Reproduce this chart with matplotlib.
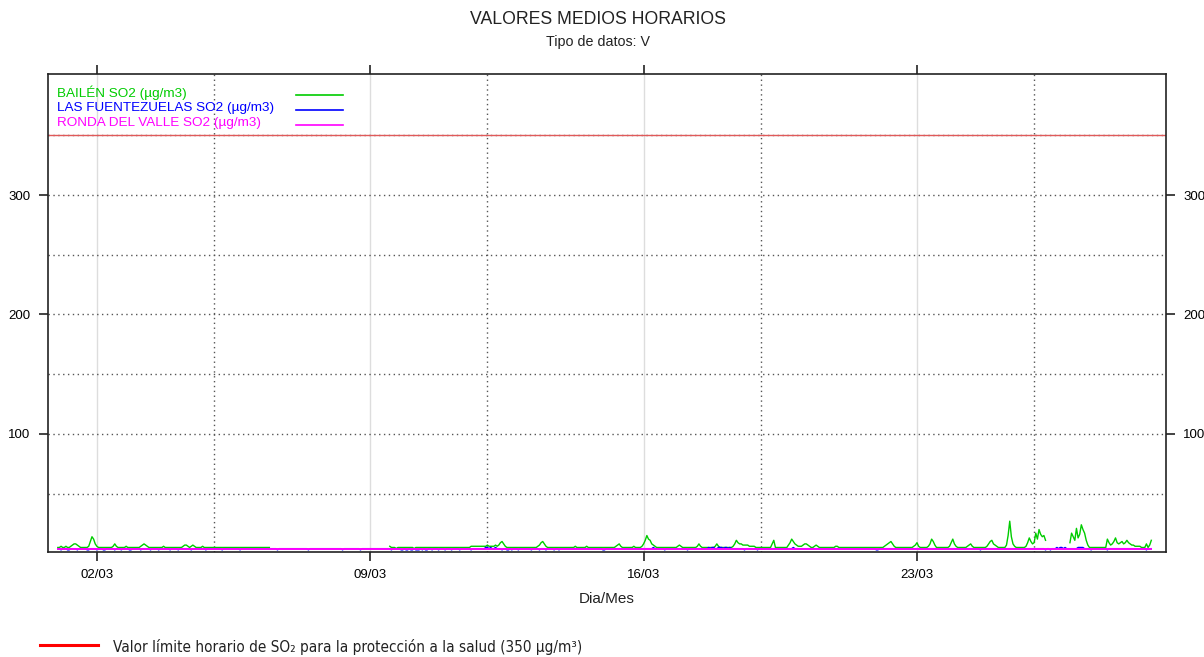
import numpy as np
import matplotlib
matplotlib.use("Agg")
import matplotlib.pyplot as plt
import matplotlib.dates as mdates
from matplotlib.lines import Line2D

plt.rcParams['font.family'] = ['Liberation Sans', 'DejaVu Sans']

nan = np.nan

# hourly values from 01/03 00:00, one row per day (µg/m3)
bailen = [
    5, 5, 6, 5, 5, 6, 5, 5, 6, 7, 8, 8, 7, 6, 5, 5, 5, 5, 5, 6, 10, 14, 12, 8,
    6, 5, 5, 5, 5, 5, 5, 5, 5, 5, 6, 8, 6, 5, 5, 5, 5, 5, 6, 5, 5, 5, 5, 5,
    5, 5, 5, 6, 7, 8, 7, 6, 5, 5, 5, 5, 5, 5, 5, 5, 5, 6, 5, 5, 5, 5, 5, 5,
    5, 5, 5, 5, 5, 6, 7, 7, 6, 5, 6, 7, 6, 5, 5, 5, 5, 6, 5, 5, 5, 5, 5, 5,
    5, 5, 5, 5, 5, 5, 5, 5, 5, 5, 5, 5, 5, 5, 5, 5, 5, 5, 5, 5, 5, 5, 5, 5,
    5, 5, 5, 5, 5, 5, 5, 5, 5, 5, 5, nan, nan, nan, nan, nan, nan, nan, nan, nan, nan, nan, nan, nan,
    nan, nan, nan, nan, nan, nan, nan, nan, nan, nan, nan, nan, nan, nan, nan, nan, nan, nan, nan, nan, nan, nan, nan, nan,
    nan, nan, nan, nan, nan, nan, nan, nan, nan, nan, nan, nan, nan, nan, nan, nan, nan, nan, nan, nan, nan, nan, nan, nan,
    nan, nan, nan, nan, nan, nan, nan, nan, nan, nan, nan, nan, 6, 5, 5, 5, 4, 5, 5, 5, 5, 5, 5, 5,
    5, 5, 5, 4, 5, 5, 5, 5, 5, 5, 5, 5, 5, 5, 5, 5, 5, 5, 5, 5, 5, 5, 5, 5,
    5, 5, 5, 5, 5, 5, 5, 5, 5, 5, 5, 5, 5, 5, 6, 6, 6, 6, 6, 6, 6, 6, 6, 6,
    7, 6, 6, 6, 6, 7, 6, 7, 9, 10, 8, 6, 5, 5, 5, 5, 5, 5, 5, 5, 5, 5, 5, 5,
    5, 5, 5, 5, 5, 5, 5, 6, 7, 9, 10, 8, 6, 5, 5, 5, 5, 5, 5, 5, 5, 5, 5, 5,
    5, 5, 5, 5, 5, 5, 6, 5, 5, 5, 5, 5, 5, 6, 5, 5, 5, 5, 5, 5, 5, 5, 5, 5,
    5, 5, 5, 5, 5, 5, 5, 6, 7, 8, 6, 5, 5, 5, 5, 5, 5, 5, 6, 5, 5, 5, 5, 6,
    8, 11, 15, 12, 11, 8, 7, 6, 5, 5, 5, 5, 5, 5, 5, 5, 5, 5, 5, 5, 5, 6, 7, 6,
    5, 5, 5, 5, 5, 5, 5, 5, 5, 6, 8, 6, 5, 5, 5, 5, 5, 5, 5, 5, 6, 8, 6, 5,
    5, 5, 5, 5, 5, 5, 5, 6, 8, 11, 9, 8, 8, 7, 7, 7, 7, 6, 6, 6, 6, 5, 5, 5,
    5, 5, 5, 5, 5, 5, 5, 8, 11, 5, 5, 5, 5, 5, 5, 5, 5, 7, 9, 12, 10, 8, 7, 6,
    6, 6, 7, 8, 8, 7, 6, 5, 5, 6, 7, 6, 5, 5, 5, 5, 5, 5, 5, 5, 5, 5, 6, 6,
    5, 5, 5, 5, 5, 5, 5, 5, 5, 5, 5, 5, 5, 5, 5, 5, 5, 5, 5, 5, 5, 5, 5, 5,
    5, 5, 5, 5, 6, 7, 8, 9, 10, 8, 6, 5, 5, 5, 5, 5, 5, 5, 5, 5, 5, 5, 6, 7,
    9, 6, 5, 5, 5, 5, 5, 6, 8, 12, 10, 7, 5, 5, 5, 5, 5, 5, 5, 5, 6, 9, 12, 8,
    6, 5, 5, 5, 5, 5, 5, 6, 7, 8, 6, 5, 5, 5, 5, 5, 5, 5, 5, 6, 8, 10, 11, 8,
    7, 6, 5, 5, 5, 5, 5, 7, 15, 27, 14, 8, 6, 5, 5, 5, 5, 5, 5, 6, 9, 13, 10, 8,
    9, 17, 12, 20, 16, 14, 15, 11, nan, nan, nan, nan, nan, nan, nan, nan, nan, nan, nan, nan, nan, nan, 9, 17,
    14, 11, 21, 13, 16, 24, 20, 17, 11, 7, 5, 5, 5, 5, 5, 5, 5, 5, 5, 5, 5, 12, 9, 7,
    8, 10, 13, 9, 8, 9, 10, 8, 9, 11, 9, 8, 7, 7, 6, 6, 6, 6, 5, 5, 5, 8, 5, 7,
    11,
]

fuentezuelas = [
    4, 4, 3, 4, 4, 4, 3, 3, 4, 4, 4, 4, 3, 4, 4, 4, 4, 4, 3, 3, 4, 4, 4, 4,
    3, 4, 4, 4, 3, 3, 4, 4, 4, 4, 4, 3, 4, 4, 4, 3, 4, 4, 4, 4, 3, 3, 4, 4,
    4, 4, 4, 3, 4, 4, 4, 4, 4, 3, 4, 4, 4, 4, 3, 4, 4, 4, 4, 4, 4, 3, 4, 4,
    4, 4, 3, 4, 4, 4, 4, 4, 4, 4, 3, 4, 4, 4, 4, 4, 4, 4, 4, 3, 4, 4, 4, 4,
    4, 4, 4, 4, 4, 3, 4, 4, 4, 4, 4, 4, 4, 4, 4, 4, 3, 4, 4, 4, 4, 4, 4, 4,
    4, 4, 4, 4, 4, 4, 4, 4, 4, 4, 4, 4, 4, 4, 4, 3, 4, 4, 4, 4, 4, 4, 4, 4,
    4, 4, 4, 4, 4, 4, 4, 4, 4, 4, 3, 4, 4, 4, 4, 4, 4, 4, 4, 4, 4, 4, 4, 4,
    4, 4, 4, 4, 4, 4, 4, 3, 4, 4, 4, 4, 4, 4, 4, 4, 4, 4, 3, 4, 4, 4, 4, 4,
    4, 4, 4, 4, 4, 4, 4, 4, 4, 4, 4, 4, 4, 3, 4, 4, 4, 4, 4, 3, 3, 4, 3, 3,
    4, 3, 3, 4, 3, 3, 3, 4, 3, 4, 3, 3, 4, 4, 3, 4, 4, 4, 3, 4, 4, 4, 3, 4,
    4, 4, 3, 4, 4, 4, 4, 3, 4, 4, 4, 4, 4, 4, 3, 4, 4, 4, 4, 4, 4, 4, 4, 5,
    5, 4, 5, 4, 4, 5, 4, 4, 4, 3, 4, 4, 3, 3, 4, 3, 4, 4, 4, 3, 4, 4, 4, 4,
    4, 4, 4, 3, 4, 4, 4, 4, 3, 4, 4, 4, 3, 4, 4, 4, 4, 3, 4, 4, 3, 4, 4, 4,
    4, 4, 4, 4, 4, 4, 4, 4, 4, 4, 4, 4, 4, 4, 4, 4, 4, 4, 4, 4, 4, 4, 4, 3,
    3, 4, 4, 4, 4, 4, 4, 4, 4, 4, 4, 4, 4, 4, 4, 4, 4, 4, 4, 4, 4, 4, 4, 4,
    4, 4, 4, 4, 4, 4, 5, 4, 4, 4, 4, 4, 4, 3, 4, 4, 4, 4, 4, 4, 4, 4, 4, 4,
    4, 4, 4, 3, 4, 4, 4, 4, 4, 4, 4, 4, 4, 4, 4, 4, 5, 4, 5, 5, 4, 4, 5, 5,
    5, 4, 5, 5, 4, 5, 4, 4, 4, 4, 4, 4, 4, 4, 3, 4, 4, 4, 4, 4, 4, 4, 3, 4,
    4, 4, 4, 4, 4, 4, 4, 4, 4, 4, 4, 4, 4, 4, 4, 4, 4, 4, 4, 4, 5, 4, 4, 4,
    4, 4, 4, 4, 4, 4, 4, 4, 4, 4, 4, 4, 4, 4, 4, 4, 4, 4, 4, 4, 4, 4, 4, 4,
    4, 4, 4, 4, 4, 4, 4, 4, 4, 4, 4, 4, 4, 4, 4, 4, 4, 4, 4, 4, 4, 4, 4, 3,
    3, 4, 4, 4, 4, 4, 4, 4, 4, 4, 4, 4, 4, 4, 4, 4, 4, 4, 4, 4, 4, 4, 4, 4,
    4, 4, 4, 4, 4, 4, 4, 4, 4, 4, 4, 4, 4, 4, 4, 4, 4, 4, 4, 4, 4, 4, 4, 4,
    4, 4, 4, 4, 4, 4, 4, 4, 4, 4, 4, 4, 4, 4, 4, 3, 4, 4, 4, 4, 4, 4, 4, 4,
    4, 4, 4, 4, 4, 4, 4, 4, 4, 4, 4, 4, 4, 4, 4, 4, 4, 4, 4, 4, 4, 4, 4, 4,
    4, 4, 4, 4, 4, 4, 4, 3, 4, 4, 3, 4, 4, 4, 5, 4, 5, 5, 4, 5, 4, 4, 4, 4,
    4, 4, 4, 5, 5, 5, 5, 4, 4, 4, 4, 3, 4, 4, 4, 4, 4, 4, 4, 4, 4, 3, 4, 4,
    4, 4, 4, 4, 4, 4, 4, 4, 4, 4, 4, 4, 4, 4, 4, 4, 4, 4, 4, 4, 4, 3, 4, 4,
    4,
]

ronda_valle = [
    4, 4, 4, 4, 4, 4, 4, 4, 4, 4, 4, 4, 4, 4, 4, 4, 4, 4, 4, 4, 4, 4, 4, 4,
    4, 4, 4, 4, 4, 4, 4, 4, 4, 4, 4, 4, 4, 4, 4, 4, 4, 4, 4, 4, 4, 4, 4, 4,
    4, 4, 4, 4, 4, 4, 4, 4, 4, 4, 4, 4, 4, 4, 4, 4, 4, 4, 4, 4, 4, 4, 4, 4,
    4, 4, 4, 4, 4, 4, 4, 4, 4, 4, 4, 4, 4, 4, 4, 4, 4, 4, 4, 4, 4, 4, 4, 4,
    4, 4, 4, 4, 4, 4, 4, 4, 4, 4, 4, 4, 4, 4, 4, 4, 4, 4, 4, 4, 4, 4, 4, 4,
    4, 4, 4, 4, 4, 4, 4, 4, 4, 4, 4, 4, 4, 4, 4, 4, 4, 4, 4, 4, 4, 4, 4, 4,
    4, 4, 4, 4, 4, 4, 4, 4, 4, 4, 4, 4, 4, 4, 4, 4, 4, 4, 4, 4, 4, 4, 4, 4,
    4, 4, 4, 4, 4, 4, 4, 4, 4, 4, 4, 4, 4, 4, 4, 4, 4, 4, 4, 4, 4, 4, 4, 4,
    4, 4, 4, 4, 4, 4, 4, 4, 4, 4, 4, 4, 4, 4, 4, 4, 4, 4, 4, 4, 4, 4, 4, 4,
    4, 4, 4, 4, 4, 4, 4, 4, 4, 4, 4, 4, 4, 4, 4, 4, 4, 4, 4, 4, 4, 4, 4, 4,
    4, 4, 4, 4, 4, 4, 4, 4, 4, 4, 4, 4, 4, 4, 4, 4, 4, 4, 4, 4, 4, 4, 4, 4,
    4, 4, 4, 4, 4, 4, 4, 4, 4, 4, 4, 4, 4, 4, 4, 4, 4, 4, 4, 4, 4, 4, 4, 4,
    4, 4, 4, 4, 4, 4, 4, 4, 4, 4, 4, 4, 4, 4, 4, 4, 4, 4, 4, 4, 4, 4, 4, 4,
    4, 4, 4, 4, 4, 4, 4, 4, 4, 4, 4, 4, 4, 4, 4, 4, 4, 4, 4, 4, 4, 4, 4, 4,
    4, 4, 4, 4, 4, 4, 4, 4, 4, 4, 4, 4, 4, 4, 4, 4, 4, 4, 4, 4, 4, 4, 4, 4,
    4, 4, 4, 4, 4, 4, 4, 4, 4, 4, 4, 4, 4, 4, 4, 4, 4, 4, 4, 4, 4, 4, 4, 4,
    4, 4, 4, 4, 4, 4, 4, 4, 4, 4, 4, 4, 4, 4, 4, 4, 4, 4, 4, 4, 4, 4, 4, 4,
    4, 4, 4, 4, 4, 4, 4, 4, 4, 4, 4, 4, 4, 4, 4, 4, 4, 4, 4, 4, 4, 4, 4, 4,
    4, 4, 4, 4, 4, 4, 4, 4, 4, 4, 4, 4, 4, 4, 4, 4, 4, 4, 4, 4, 4, 4, 4, 4,
    4, 4, 4, 4, 4, 4, 4, 4, 4, 4, 4, 4, 4, 4, 4, 4, 4, 4, 4, 4, 4, 4, 4, 4,
    4, 4, 4, 4, 4, 4, 4, 4, 4, 4, 4, 4, 4, 4, 4, 4, 4, 4, 4, 4, 4, 4, 4, 4,
    4, 4, 4, 4, 4, 4, 4, 4, 4, 4, 4, 4, 4, 4, 4, 4, 4, 4, 4, 4, 4, 4, 4, 4,
    4, 4, 4, 4, 4, 4, 4, 4, 4, 4, 4, 4, 4, 4, 4, 4, 4, 4, 4, 4, 4, 4, 4, 4,
    4, 4, 4, 4, 4, 4, 4, 4, 4, 4, 4, 4, 4, 4, 4, 4, 4, 4, 4, 4, 4, 4, 4, 4,
    4, 4, 4, 4, 4, 4, 4, 4, 4, 4, 4, 4, 4, 4, 4, 4, 4, 4, 4, 4, 4, 4, 4, 4,
    4, 4, 4, 4, 4, 4, 4, 4, 4, 4, 4, 4, 4, 4, 4, 4, 4, 4, 4, 4, 4, 4, 4, 4,
    4, 4, 4, 4, 4, 4, 4, 4, 4, 4, 4, 4, 4, 4, 4, 4, 4, 4, 4, 4, 4, 4, 4, 4,
    4, 4, 4, 4, 4, 4, 4, 4, 4, 4, 4, 4, 4, 4, 4, 4, 4, 4, 4, 4, 4, 4, 4, 4,
    4,
]

series_labels = ["BAILÉN SO2 (µg/m3)", "LAS FUENTEZUELAS SO2 (µg/m3)", "RONDA DEL VALLE SO2 (µg/m3)"]
series_colors = ["#00cc00", "#0000ff", "#ff00ff"]
series_widths = [1.0, 1.0, 1.4]
limit_value = 350
limit_text = "Valor límite horario de SO₂ para la protección a la salud (350 µg/m³)"

hours = np.datetime64("2024-03-01T00:00") + np.arange(len(bailen)).astype("timedelta64[h]")
t = hours.astype("datetime64[s]").astype(object)

fig = plt.figure(figsize=(12.04, 6.57), dpi=100)
ax = fig.add_axes([0.0399, 0.1598, 0.9285, 0.7276])

for vals, col, lw in zip([bailen, fuentezuelas, ronda_valle], series_colors, series_widths):
    ax.plot(t, vals, color=col, lw=lw, zorder=3)

ax.axhline(limit_value, color="#e05a5a", lw=1.0, zorder=2)

ax.set_ylim(1.2, 401.3)
ax.set_xlim(np.datetime64("2024-02-29T18:00").astype(object),
            np.datetime64("2024-03-29T09:00").astype(object))

ax.xaxis.set_major_locator(mdates.DayLocator(bymonthday=[2, 9, 16, 23]))
ax.xaxis.set_minor_locator(mdates.DayLocator(bymonthday=[5, 12, 19, 26]))
ax.xaxis.set_major_formatter(mdates.DateFormatter("%d/%m"))
ax.set_yticks([100, 200, 300])
ax.set_yticks([50, 150, 250, 350], minor=True)

ax.xaxis.grid(True, which="major", color="#dddddd", ls="-", lw=1.0)
ax.xaxis.grid(True, which="minor", color="#555555", ls=(0, (1, 2.5)), lw=1.0)
ax.yaxis.grid(True, which="both", color="#555555", ls=(0, (1, 2.5)), lw=1.0)
ax.set_axisbelow(True)

ax.tick_params(which="major", direction="out", length=6.5, width=1.2, color="#222222",
               labelsize=9.5, top=True, right=True, labelright=True)
ax.tick_params(axis="y", pad=6)
ax.tick_params(axis="x", pad=6)
ax.tick_params(which="minor", length=0)
for sp in ax.spines.values():
    sp.set_color("#222222")
    sp.set_linewidth(1.2)

ax.set_xlabel("Dia/Mes", fontsize=11, labelpad=8, color="#222222")

# legend block inside the plot, text first then line sample
for i, (lab, col) in enumerate(zip(series_labels, series_colors)):
    yy = 0.960 - i * 0.031
    ax.text(0.0077, yy, lab, color=col, fontsize=9.7, transform=ax.transAxes, va="center")
    ax.plot([0.2215, 0.2635], [yy - 0.005, yy - 0.005], color=col, lw=1.2,
            transform=ax.transAxes, clip_on=False)

fig.text(0.497, 1 - 20 / 657, "VALORES MEDIOS HORARIOS", ha="center", va="center",
         fontsize=12.7, color="#222222")
fig.text(0.497, 1 - 42 / 657, "Tipo de datos: V", ha="center", va="center",
         fontsize=10.3, color="#222222")

fig.add_artist(Line2D([40 / 1204, 98 / 1204], [1 - 645 / 657, 1 - 645 / 657],
                      color="#ff0000", lw=2.2))
fig.text(113 / 1204, 1 - 647 / 657, limit_text, ha="left", va="center", fontsize=11,
         color="#222222", family=["DejaVu Sans"], fontstretch="condensed")

fig.savefig("out.png", dpi=100)
